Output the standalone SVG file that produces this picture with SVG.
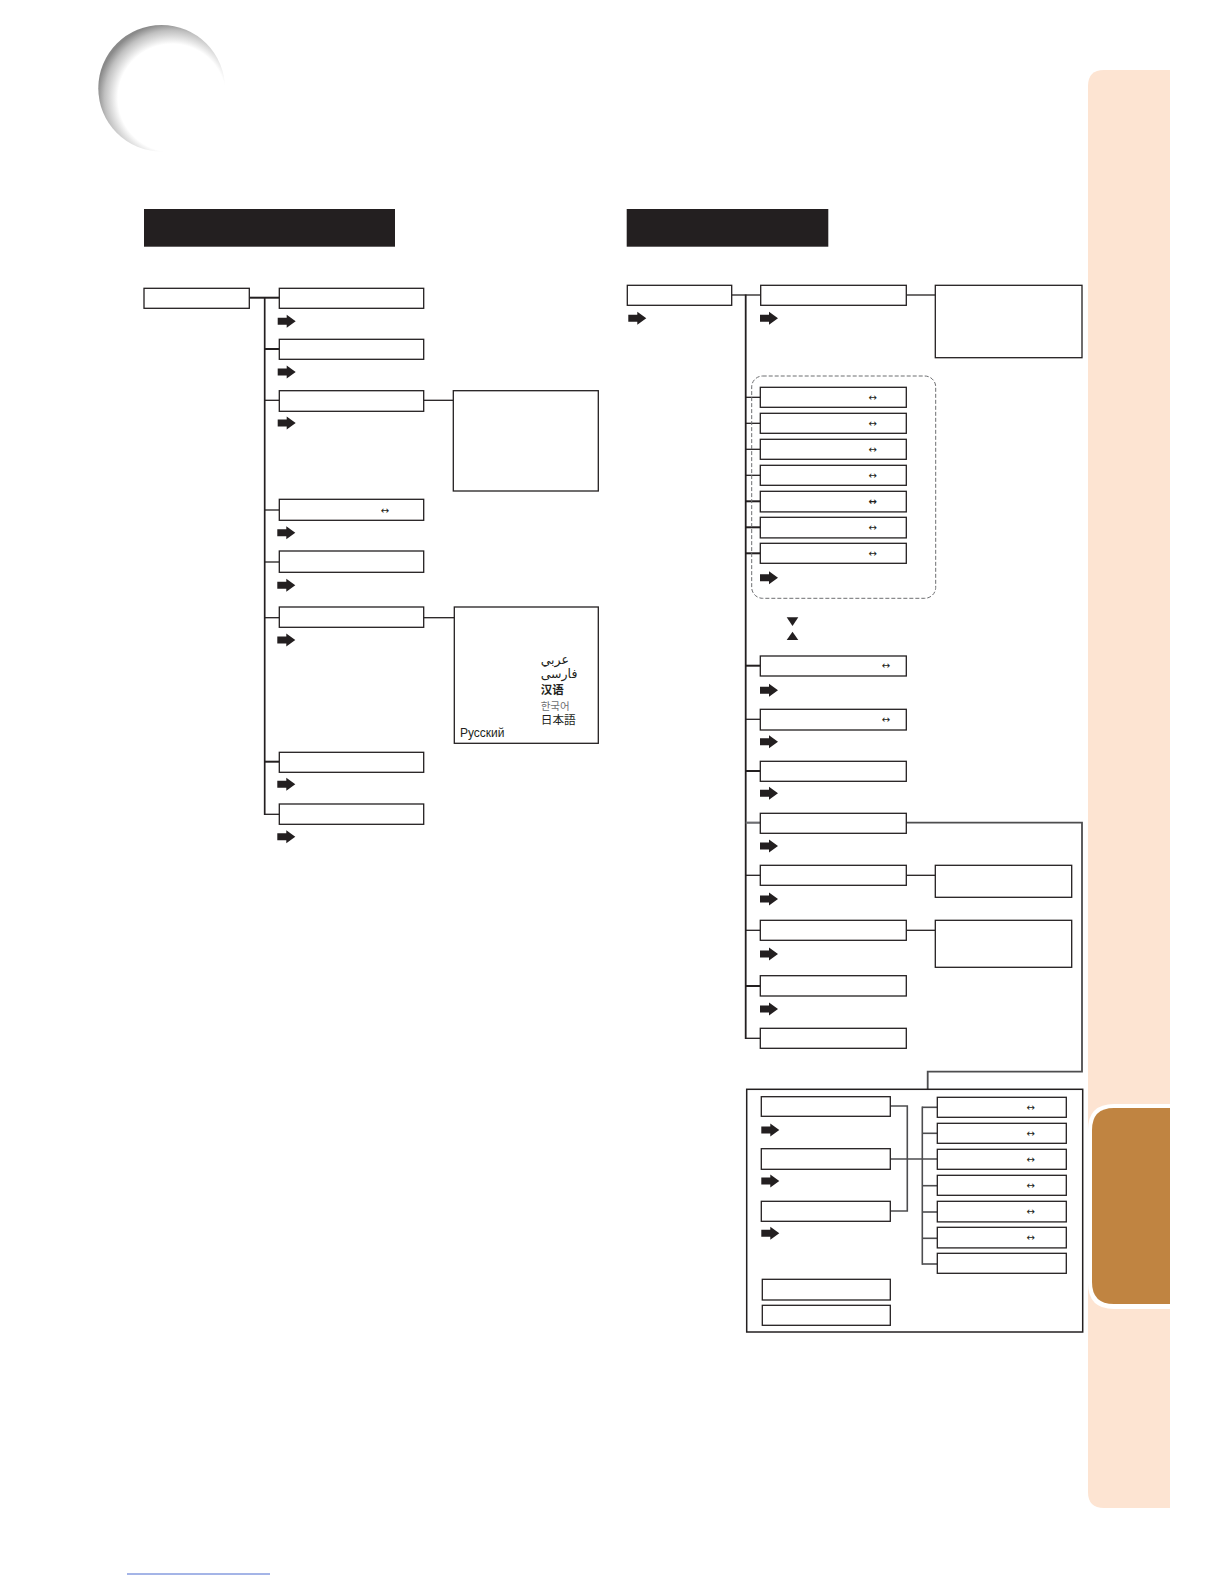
<svg xmlns="http://www.w3.org/2000/svg" xmlns:xlink="http://www.w3.org/1999/xlink" width="1224" height="1584" viewBox="0 0 1224 1584">
<style>
.box{fill:#fff;stroke:#231f20;stroke-width:1.3}
.ln{stroke:#231f20;stroke-width:1.3;fill:none}
.thk{stroke-width:2}
.gry{stroke:#6d6e71;stroke-width:2.2}
.dg{stroke:#4d4d4f;stroke-width:1.6;fill:none}
.sym{font-family:"DejaVu Sans",sans-serif;font-size:10px;fill:#231f20;text-anchor:middle}
.lang{font-size:11.5px;fill:#231f20}
</style>
<defs>
<radialGradient id="ball" gradientUnits="userSpaceOnUse" cx="172" cy="98" r="75" fx="172" fy="98">
<stop offset="0.72" stop-color="#ffffff"/>
<stop offset="0.9" stop-color="#c0c0c0"/>
<stop offset="1" stop-color="#8a8a8a"/>
</radialGradient>
<path id="arr" d="M0,-3.5 H9 V-6.5 L18,0 L9,6.5 V3.5 H0 Z" fill="#231f20"/>
</defs>
<rect width="1224" height="1584" fill="#fff"/>

<!-- header decoration -->
<circle cx="161.6" cy="88.3" r="63.3" fill="url(#ball)"/>

<!-- side tabs -->
<path d="M1104,70 H1170 V1508 H1104 Q1088,1508 1088,1492 V86 Q1088,70 1104,70 Z" fill="#fde4d2"/>
<path d="M1114,1104 H1170 V1309 H1114 Q1088,1309 1088,1283 V1130 Q1088,1104 1114,1104 Z" fill="#fff"/>
<path d="M1114,1108 H1170 V1304 H1114 Q1092,1304 1092,1282 V1130 Q1092,1108 1114,1108 Z" fill="#c08441"/>

<!-- section bars -->
<rect x="144" y="209" width="251" height="37.7" fill="#231f20"/>
<rect x="626.7" y="209" width="201.6" height="37.7" fill="#231f20"/>

<!-- connectors -->
<g id="connectors">
<line class="ln thk" x1="249.3" y1="297.7" x2="279.3" y2="297.7"/>
<line class="ln" x1="264.7" y1="297" x2="264.7" y2="815" style="stroke-width:1.7"/>
<line class="ln thk" x1="264.7" y1="349" x2="279.3" y2="349"/>
<line class="ln" x1="264.7" y1="400.3" x2="279.3" y2="400.3"/>
<line class="ln" x1="264.7" y1="510" x2="279.3" y2="510"/>
<line class="ln" x1="264.7" y1="562" x2="279.3" y2="562"/>
<line class="ln" x1="264.7" y1="617.7" x2="279.3" y2="617.7"/>
<line class="ln thk" x1="264.7" y1="761.7" x2="279.3" y2="761.7"/>
<line class="ln" x1="264.7" y1="814.3" x2="279.3" y2="814.3"/>
<line class="ln" x1="423.7" y1="400.3" x2="453.3" y2="400.3"/>
<line class="ln" x1="423.7" y1="617.7" x2="454.3" y2="617.7"/>

<line class="ln" x1="731.7" y1="295" x2="760.7" y2="295"/>
<line class="ln" x1="906.3" y1="295" x2="935.3" y2="295"/>
<line class="ln" x1="745.7" y1="294.4" x2="745.7" y2="1039" style="stroke-width:1.8"/>
<line class="ln" x1="745.7" y1="397.3" x2="760.3" y2="397.3"/>
<line class="ln" x1="745.7" y1="423.3" x2="760.3" y2="423.3"/>
<line class="ln" x1="745.7" y1="449.3" x2="760.3" y2="449.3"/>
<line class="ln" x1="745.7" y1="475.3" x2="760.3" y2="475.3"/>
<line class="ln thk" x1="745.7" y1="501.3" x2="760.3" y2="501.3"/>
<line class="ln thk" x1="745.7" y1="527.3" x2="760.3" y2="527.3"/>
<line class="ln thk" x1="745.7" y1="553.3" x2="760.3" y2="553.3"/>
<line class="ln thk" x1="745.7" y1="665.7" x2="760.3" y2="665.7"/>
<line class="ln" x1="745.7" y1="719.3" x2="760.3" y2="719.3"/>
<line class="ln thk" x1="745.7" y1="771" x2="760.3" y2="771"/>
<line class="gry" x1="745.7" y1="822.7" x2="760.3" y2="822.7"/>
<polyline points="906.3,822.7 1082,822.7 1082,1071.7 927.7,1071.7 927.7,1089.3" fill="none" stroke="#4d4d4f" stroke-width="1.8"/>
<line class="ln" x1="745.7" y1="875.3" x2="760.3" y2="875.3"/>
<line class="ln" x1="906.3" y1="875.3" x2="935.3" y2="875.3"/>
<line class="ln" x1="745.7" y1="930.3" x2="760.3" y2="930.3"/>
<line class="ln" x1="906.3" y1="930.3" x2="935.3" y2="930.3"/>
<line class="ln thk" x1="745.7" y1="986" x2="760.3" y2="986"/>
<line class="ln" x1="745.7" y1="1038.3" x2="760.3" y2="1038.3"/>

<polyline class="dg" points="890.3,1106 907.3,1106 907.3,1211 890.3,1211"/>
<line class="dg" x1="890.3" y1="1159" x2="937.3" y2="1159"/>
<line class="dg" x1="922.3" y1="1106.5" x2="922.3" y2="1264.8"/>
<line class="dg" x1="922.3" y1="1107.3" x2="937.3" y2="1107.3"/>
<line class="dg" x1="922.3" y1="1133.3" x2="937.3" y2="1133.3"/>
<line class="dg" x1="922.3" y1="1185.7" x2="937.3" y2="1185.7"/>
<line class="dg" x1="922.3" y1="1212" x2="937.3" y2="1212"/>
<line class="dg" x1="922.3" y1="1238.3" x2="937.3" y2="1238.3"/>
<line class="dg" x1="922.3" y1="1264" x2="937.3" y2="1264"/>
</g>

<!-- left tree -->
<g id="l-root"><rect class="box" x="144" y="288.3" width="105.3" height="20"/></g>
<g id="l-n1"><rect class="box" x="279.3" y="288.3" width="144.4" height="20"/><use xlink:href="#arr" x="277.7" y="321.3"/></g>
<g id="l-n2"><rect class="box" x="279.3" y="339.3" width="144.4" height="20"/><use xlink:href="#arr" x="277.7" y="372"/></g>
<g id="l-n3"><rect class="box" x="279.3" y="390.7" width="144.4" height="20.6"/><use xlink:href="#arr" x="277.7" y="423"/></g>
<g id="l-n3box"><rect class="box" x="453.3" y="390.7" width="145" height="100.3"/></g>
<g id="l-n4"><rect class="box" x="279.3" y="499.3" width="144.4" height="21"/><text class="sym" x="385" y="514">↔</text><use xlink:href="#arr" x="277.3" y="532.7"/></g>
<g id="l-n5"><rect class="box" x="279.3" y="551" width="144.4" height="21.3"/><use xlink:href="#arr" x="277.3" y="585.3"/></g>
<g id="l-n6"><rect class="box" x="279.3" y="607" width="144.4" height="20.3"/><use xlink:href="#arr" x="277.3" y="640"/></g>
<g id="l-lang">
<rect class="box" x="454.3" y="607" width="144" height="136.3"/>
<text class="lang" x="540.7" y="664" style="font-family:'DejaVu Sans',sans-serif;font-size:12.5px">عربي</text>
<text class="lang" x="540.7" y="678" style="font-family:'DejaVu Sans',sans-serif;font-size:12.5px">فارسی</text>
<text class="lang" x="540.7" y="694" style="font-family:'Noto Sans CJK SC',sans-serif;font-size:11.5px;font-weight:bold">汉语</text>
<text class="lang" x="540.7" y="709.5" style="font-family:'Noto Sans CJK KR',sans-serif;font-size:10.5px;fill:#6d6e71">한국어</text>
<text class="lang" x="540.7" y="724" style="font-family:'Noto Sans CJK JP',sans-serif;font-size:11.7px">日本語</text>
<text class="lang" x="460" y="737" style="font-family:'Liberation Sans',Arial,sans-serif;font-size:12px">Русский</text>
</g>
<g id="l-n7"><rect class="box" x="279.3" y="752.3" width="144.4" height="20"/><use xlink:href="#arr" x="277.3" y="784.3"/></g>
<g id="l-n8"><rect class="box" x="279.3" y="804" width="144.4" height="20.3"/><use xlink:href="#arr" x="277.3" y="836.7"/></g>

<!-- right tree -->
<g id="r-root"><rect class="box" x="627.3" y="285.3" width="104.4" height="20"/><use xlink:href="#arr" x="628.3" y="318.3"/></g>
<g id="r-n1"><rect class="box" x="760.7" y="285.3" width="145.6" height="20"/><use xlink:href="#arr" x="760" y="318.3"/></g>
<g id="r-n1box"><rect class="box" x="935.3" y="285.3" width="146.7" height="72.4"/></g>
<g id="r-group">
<rect x="751.7" y="376" width="184" height="222.3" rx="11" fill="none" stroke="#6d6e71" stroke-width="1" stroke-dasharray="4,2"/>
<rect class="box" x="760.3" y="387.3" width="146" height="20"/><text class="sym" x="872.7" y="400.7">↔</text>
<rect class="box" x="760.3" y="413.3" width="146" height="20"/><text class="sym" x="872.7" y="426.7">↔</text>
<rect class="box" x="760.3" y="439.3" width="146" height="20"/><text class="sym" x="872.7" y="452.7">↔</text>
<rect class="box" x="760.3" y="465.3" width="146" height="20"/><text class="sym" x="872.7" y="478.7">↔</text>
<rect class="box" x="760.3" y="491.3" width="146" height="20.6"/><text class="sym" x="872.7" y="505" style="font-weight:bold">↔</text>
<rect class="box" x="760.3" y="517.3" width="146" height="20.6"/><text class="sym" x="872.7" y="530.7">↔</text>
<rect class="box" x="760.3" y="543.3" width="146" height="20"/><text class="sym" x="872.7" y="556.7">↔</text>
<use xlink:href="#arr" x="760" y="577.7"/>
</g>
<g id="r-updown">
<polygon points="786.7,617.3 798.3,617.3 792.5,626" fill="#231f20"/>
<polygon points="792.5,631.7 798.3,640 786.7,640" fill="#231f20"/>
</g>
<g id="r-n2"><rect class="box" x="760.3" y="656" width="146" height="20"/><text class="sym" x="886" y="669.3">↔</text><use xlink:href="#arr" x="760" y="690.3"/></g>
<g id="r-n3"><rect class="box" x="760.3" y="709.3" width="146" height="20.7"/><text class="sym" x="886" y="722.5">↔</text><use xlink:href="#arr" x="760" y="741.7"/></g>
<g id="r-n4"><rect class="box" x="760.3" y="761.3" width="146" height="20"/><use xlink:href="#arr" x="760" y="793.3"/></g>
<g id="r-n5"><rect class="box" x="760.3" y="813.3" width="146" height="20"/><use xlink:href="#arr" x="760" y="846"/></g>
<g id="r-n6"><rect class="box" x="760.3" y="865.3" width="146" height="20"/><use xlink:href="#arr" x="760" y="899"/></g>
<g id="r-n6box"><rect class="box" x="935.3" y="865.3" width="136.4" height="32"/></g>
<g id="r-n7"><rect class="box" x="760.3" y="920.3" width="146" height="20"/><use xlink:href="#arr" x="760" y="954"/></g>
<g id="r-n7box"><rect class="box" x="935.3" y="920.3" width="136.4" height="47"/></g>
<g id="r-n8"><rect class="box" x="760.3" y="975.7" width="146" height="20.3"/><use xlink:href="#arr" x="760" y="1009"/></g>
<g id="r-n9"><rect class="box" x="760.3" y="1028.3" width="146" height="20"/></g>

<!-- lower sub-menu frame -->
<g id="r-sub">
<rect x="746.7" y="1089.3" width="336" height="242.7" fill="none" stroke="#231f20" stroke-width="1.5"/>
</g>
<g id="s-l1"><rect class="box" x="761.3" y="1096.7" width="129" height="19.6"/><use xlink:href="#arr" x="761.3" y="1130"/></g>
<g id="s-l2"><rect class="box" x="761.3" y="1148.7" width="129" height="20.6"/><use xlink:href="#arr" x="761.3" y="1181"/></g>
<g id="s-l3"><rect class="box" x="761.3" y="1201.3" width="129" height="20"/><use xlink:href="#arr" x="761.3" y="1233.3"/></g>
<g id="s-l4"><rect class="box" x="762.3" y="1279.3" width="128" height="20.7"/></g>
<g id="s-l5"><rect class="box" x="762.3" y="1305.3" width="128" height="20"/></g>
<g id="s-r1"><rect class="box" x="937.3" y="1097.3" width="129" height="20"/><text class="sym" x="1030.7" y="1110.7">↔</text></g>
<g id="s-r2"><rect class="box" x="937.3" y="1123.3" width="129" height="20"/><text class="sym" x="1030.7" y="1136.7">↔</text></g>
<g id="s-r3"><rect class="box" x="937.3" y="1149.3" width="129" height="20"/><text class="sym" x="1030.7" y="1162.7">↔</text></g>
<g id="s-r4"><rect class="box" x="937.3" y="1175.3" width="129" height="20"/><text class="sym" x="1030.7" y="1188.7">↔</text></g>
<g id="s-r5"><rect class="box" x="937.3" y="1201.3" width="129" height="20.6"/><text class="sym" x="1030.7" y="1215">↔</text></g>
<g id="s-r6"><rect class="box" x="937.3" y="1227.3" width="129" height="20.6"/><text class="sym" x="1030.7" y="1241">↔</text></g>
<g id="s-r7"><rect class="box" x="937.3" y="1253.3" width="129" height="20"/></g>

<!-- footer rule -->
<line x1="127" y1="1574" x2="270" y2="1574" stroke="#4a6bcf" stroke-width="1"/>
</svg>
